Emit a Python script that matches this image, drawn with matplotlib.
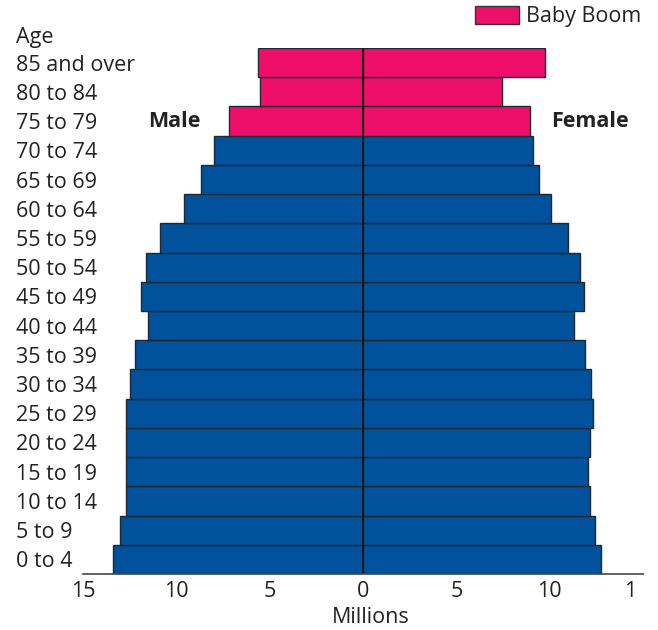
import matplotlib
matplotlib.use('Agg')
import matplotlib.pyplot as plt
import matplotlib.transforms as mtrans
from matplotlib.patches import Patch

plt.rcParams['font.family'] = ['Open Sans', 'DejaVu Sans']

# age groups, bottom to top
ages = ['0 to 4', '5 to 9', '10 to 14', '15 to 19', '20 to 24', '25 to 29',
        '30 to 34', '35 to 39', '40 to 44', '45 to 49', '50 to 54', '55 to 59',
        '60 to 64', '65 to 69', '70 to 74', '75 to 79', '80 to 84', '85 and over']

# millions
male = [13.4, 13.0, 12.7, 12.7, 12.7, 12.7, 12.5, 12.2, 11.5, 11.9, 11.6, 10.9,
        9.6, 8.7, 8.0, 7.2, 5.5, 5.6]
female = [12.75, 12.45, 12.15, 12.05, 12.15, 12.3, 12.2, 11.9, 11.3, 11.85, 11.6, 11.0,
          10.05, 9.45, 9.1, 8.95, 7.45, 9.75]

# the last three groups are the baby boom
boom = [False] * 15 + [True] * 3

x_ticks = [-15, -10, -5, 0, 5, 10, 15]
x_labels = ['15', '10', '5', '0', '5', '10', '1']

blue = '#00529c'
pink = '#ee0f6a'
edge = '#222831'
txt = '#222222'
fs = 15.5

fig = plt.figure(figsize=(6.58, 6.3), dpi=100)
ax = fig.add_axes([83 / 658, 56 / 630, 560 / 658, 526 / 630])

cols = [pink if b else blue for b in boom]
ypos = list(range(len(ages)))
ax.barh(ypos, [-m for m in male], height=1.0, color=cols, edgecolor=edge, linewidth=1.0)
ax.barh(ypos, female, height=1.0, color=cols, edgecolor=edge, linewidth=1.0)
ax.axvline(0, color='#111111', linewidth=1.2)

ax.set_xlim(-15, 15)
ax.set_ylim(-0.5, 17.5)

for s in ['top', 'left', 'right']:
    ax.spines[s].set_visible(False)
ax.spines['bottom'].set_color('#444444')
ax.spines['bottom'].set_linewidth(1.2)

ax.set_xticks(x_ticks)
ax.set_xticklabels(x_labels, fontsize=fs, color=txt)
ax.tick_params(axis='x', length=0, pad=5)
# end ticks pointing up
ax.set_xticks([-15, 15], minor=True)
ax.tick_params(axis='x', which='minor', direction='in', length=8, width=1.2, color='#444444')
# last label is cut off in the original, push it left a little
lab = ax.get_xticklabels()[-1]
lab.set_transform(lab.get_transform() + mtrans.ScaledTranslation(-13 / 100, 0, fig.dpi_scale_trans))

ax.set_yticks(ypos)
ax.set_yticklabels(ages, fontsize=fs, color=txt)
ax.tick_params(axis='y', length=0, pad=48)
for t in ax.get_yticklabels():
    t.set_ha('left')

ax.set_xlabel('Millions', fontsize=fs, color=txt)
ax.xaxis.set_label_coords(0.514, -0.082)
ax.xaxis.label.set_va('center')

fig.text(16 / 658, 1 - 38 / 630, 'Age', fontsize=fs, color=txt, va='center', ha='left')
ax.text(-10.1, 15, 'Male', fontsize=fs, fontweight='bold', color=txt, ha='center', va='center')
ax.text(12.15, 15, 'Female', fontsize=fs, fontweight='bold', color=txt, ha='center', va='center')

leg = fig.legend(handles=[Patch(facecolor=pink, edgecolor='#333333', label='Baby Boom')],
                 loc='upper left', bbox_to_anchor=(475 / 658, 1 - 6 / 630), frameon=False,
                 fontsize=fs, handlelength=2.05, handleheight=0.9, handletextpad=0.3,
                 borderpad=0, borderaxespad=0)
for t in leg.get_texts():
    t.set_color(txt)

fig.savefig('out.png', dpi=100)
